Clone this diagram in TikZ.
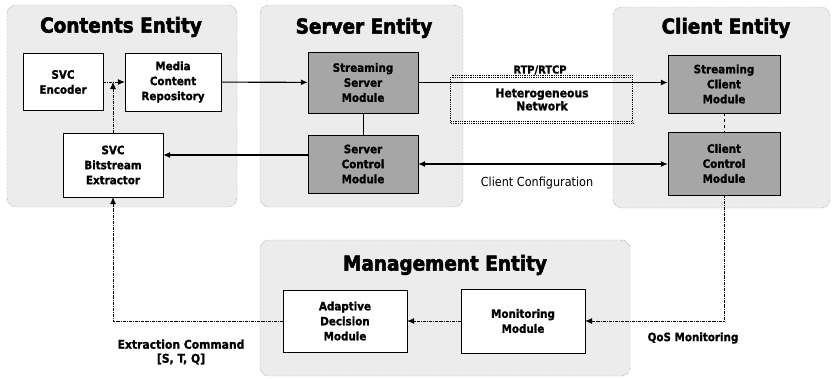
\documentclass[tikz,border=0pt]{standalone}
\usepackage{fontspec}
\setmainfont{DejaVu Sans Condensed}[BoldFeatures={FakeBold=1.2}]
\newfontfamily\headfont{DejaVu Sans Condensed}[BoldFeatures={FakeBold=2.5}]
\usepackage{tikz}
\usetikzlibrary{arrows.meta,positioning}
\definecolor{entPaper}{HTML}{ECECEC}
\definecolor{entEdge}{HTML}{6E6E6E}
\definecolor{modGray}{HTML}{A6A6A6}
\tikzset{
  panel/.style={
    draw=entEdge,
    densely dotted,
    rounded corners=9pt,
    fill=entPaper,
    inner sep=0pt
  },
  title/.style={
    font=\headfont\fontsize{20.5}{23}\selectfont\bfseries
  },
  box/.style={
    draw=black,
    fill=white,
    align=center,
    inner sep=2pt,
    font=\fontsize{11.5}{15}\selectfont\bfseries
  },
  modbox/.style={
    box,
    fill=modGray
  },
  netbox/.style={
    draw=black,
    densely dotted,
    thick,
    double,
    double distance=0.6pt,
    align=center,
    font=\fontsize{12}{13}\selectfont\bfseries
  },
  tag/.style={align=center, font=\fontsize{11.5}{14}\selectfont\bfseries},
  arrow/.style={-{Latex[length=7pt,width=6pt]}, line width=1.1pt, draw=black},
  dasharrow/.style={arrow, line width=0.8pt, densely dashdotted}
}

\begin{document}
\begin{tikzpicture}[x=1pt, y=-1pt]
  \useasboundingbox (0,0) rectangle (836,378);

  \node[panel, minimum width=230pt, minimum height=202pt] (contents) at (122,106) {};
  \node[panel, minimum width=203pt, minimum height=202pt] (server) at (361.5,106) {};
  \node[panel, minimum width=217pt, minimum height=201pt] (client) at (721.5,107.5) {};
  \node[panel, minimum width=370pt, minimum height=136pt] (manage) at (445,308) {};

  \node[title] (contentsTitle) at (121,27) {Contents Entity};
  \node[title] (serverTitle) at (364,28) {Server Entity};
  \node[title] (clientTitle) at (726,28) {Client Entity};
  \node[title] (manageTitle) at (445,265) {Management Entity};

  \node[box, minimum width=80pt, minimum height=57pt] (encoder) at (63,82) {SVC\\Encoder};
  \node[box, minimum width=96pt, minimum height=58pt] (repo) at (173,82) {Media\\Content\\Repository};
  \node[box, minimum width=100pt, minimum height=64pt] (extractor) at (113,165) {SVC\\Bitstream\\Extractor};

  \node[modbox, minimum width=110pt, minimum height=61pt] (streamServer) at (363,82.5) {Streaming\\Server\\Module};
  \node[modbox, minimum width=110pt, minimum height=58pt] (serverCtrl) at (363,164) {Server\\Control\\Module};

  \node[netbox, minimum width=182pt, minimum height=46pt] (network) at (542,99.5) {Heterogeneous\\Network};

  \node[modbox, minimum width=112pt, minimum height=58pt] (streamClient) at (724,84) {Streaming\\Client\\Module};
  \node[modbox, minimum width=112pt, minimum height=63pt] (clientCtrl) at (724,163.5) {Client\\Control\\Module};

  \node[box, minimum width=124pt, minimum height=62pt] (decision) at (345,321) {Adaptive\\Decision\\Module};
  \node[box, minimum width=124pt, minimum height=64pt] (monitor) at (523,321) {Monitoring\\Module};

  \node[tag, font=\fontsize{11}{13}\selectfont\bfseries] (rtpLabel) at (540,70) {RTP/RTCP};
  \node[tag, font=\fontsize{12.5}{14}\selectfont] (configLabel) at (537,183) {Client Configuration};
  \node[tag] (qosLabel) at (693,338) {QoS Monitoring};
  \node[tag, font=\fontsize{12}{14}\selectfont\bfseries] (cmdLabel) at (181,352) {Extraction Command\\{[S, T, Q]}};

  \draw[dasharrow] (encoder) -- (repo);
  \draw[dasharrow] (extractor.north) -- (extractor.north |- encoder.east);
  \draw[arrow] (repo) -- (streamServer);
  \draw (streamServer) -- (serverCtrl);
  \draw[arrow] (streamServer.east) -- (streamClient.west |- streamServer.east);
  \draw[dashed] (streamClient) -- (clientCtrl);
  \draw[arrow, {Latex[length=7pt,width=6pt]}-{Latex[length=7pt,width=6pt]}] (serverCtrl.east) -- (clientCtrl.west |- serverCtrl.east);
  \draw[arrow] ([yshift=9pt]serverCtrl.west) -- ([yshift=9pt]extractor.east |- serverCtrl.west);
  \draw[dasharrow] (clientCtrl.south) |- (monitor.east);
  \draw[dasharrow] (monitor) -- (decision);
  \draw[dasharrow] (decision.west) -| (extractor.south);
\end{tikzpicture}
\end{document}
